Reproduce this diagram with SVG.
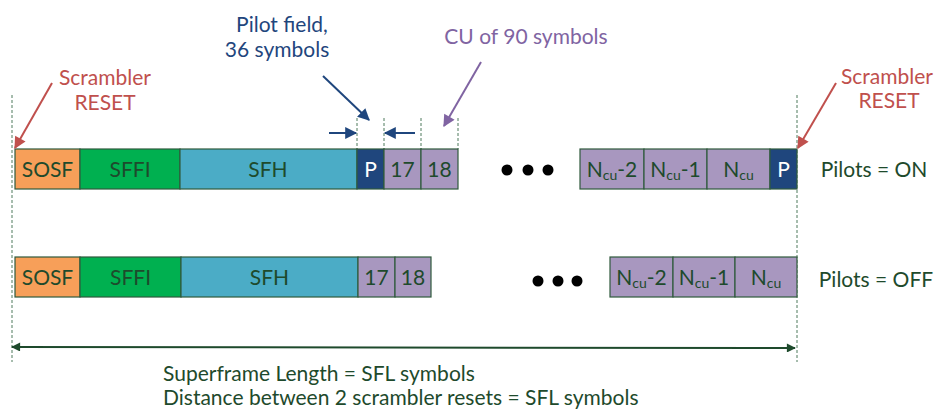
<svg xmlns="http://www.w3.org/2000/svg" width="937" height="410" viewBox="0 0 937 410">
<defs>
<style>
text{font-family:"Lato","Liberation Sans",sans-serif;}
.b{stroke:#2F5A3C;stroke-width:1.2;}
.t{fill:#1E4A2C;font-size:21px;text-anchor:middle;}
.tw{fill:#fff;font-size:21px;text-anchor:middle;}
.o{fill:#F79F59;}.g{fill:#00B050;}.c{fill:#4BACC6;}.p{fill:#A897BF;}.d{fill:#1F467D;}
.dash{stroke:#4F7A5C;stroke-width:1;stroke-dasharray:3,2;fill:none;}
.sub{font-size:14px;}
.lr{fill:#C0504D;font-size:21px;text-anchor:middle;}
.lb{fill:#1F467D;font-size:21px;text-anchor:middle;}
.lg{fill:#1E4A2C;font-size:21px;}
</style>
<marker id="ar" viewBox="0 0 10 10" refX="9" refY="5" markerUnits="userSpaceOnUse" markerWidth="13" markerHeight="12" orient="auto-start-reverse"><path d="M0,0L10,5L0,10z" fill="#C0504D"/></marker>
<marker id="ab" viewBox="0 0 10 10" refX="9" refY="5" markerUnits="userSpaceOnUse" markerWidth="13" markerHeight="12" orient="auto-start-reverse"><path d="M0,0L10,5L0,10z" fill="#1F467D"/></marker>
<marker id="ap" viewBox="0 0 10 10" refX="9" refY="5" markerUnits="userSpaceOnUse" markerWidth="13" markerHeight="12" orient="auto-start-reverse"><path d="M0,0L10,5L0,10z" fill="#8064A2"/></marker>
<marker id="ag" viewBox="0 0 10 10" refX="9" refY="5" markerUnits="userSpaceOnUse" markerWidth="10" markerHeight="9" orient="auto-start-reverse"><path d="M0,0L10,5L0,10z" fill="#1E4A2C"/></marker>
</defs>
<rect width="937" height="410" fill="#fff"/>
<g id="guides">
<line class="dash" x1="12" y1="95" x2="12" y2="362"/>
<line class="dash" x1="797" y1="95" x2="797" y2="362"/>
<line class="dash" x1="357" y1="118" x2="357" y2="149"/>
<line class="dash" x1="384" y1="118" x2="384" y2="149"/>
<line class="dash" x1="421" y1="118" x2="421" y2="149"/>
<line class="dash" x1="458" y1="118" x2="458" y2="149"/>
</g>
<g id="row1">
<g id="r1-sosf"><rect class="b o" x="15" y="149" width="65" height="40"/><text class="t" x="47.5" y="177">SOSF</text></g>
<g id="r1-sffi"><rect class="b g" x="80" y="149" width="100" height="40"/><text class="t" x="130" y="177">SFFI</text></g>
<g id="r1-sfh"><rect class="b c" x="180" y="149" width="177" height="40"/><text class="t" x="268" y="177">SFH</text></g>
<g id="r1-p1"><rect class="b d" x="357" y="149" width="27" height="40"/><text class="tw" x="370.5" y="177">P</text></g>
<g id="r1-17"><rect class="b p" x="384" y="149" width="37" height="40"/><text class="t" x="402.5" y="177">17</text></g>
<g id="r1-18"><rect class="b p" x="421" y="149" width="37" height="40"/><text class="t" x="439.5" y="177">18</text></g>
<g id="r1-dots" fill="#000"><circle cx="507" cy="170" r="5.5"/><circle cx="528" cy="170" r="5.5"/><circle cx="548" cy="170" r="5.5"/></g>
<g id="r1-n2"><rect class="b p" x="580" y="149" width="64" height="40"/><text class="t" x="612" y="177">N<tspan class="sub" dy="3">cu</tspan><tspan dy="-3">-2</tspan></text></g>
<g id="r1-n1"><rect class="b p" x="644" y="149" width="63" height="40"/><text class="t" x="675.5" y="177">N<tspan class="sub" dy="3">cu</tspan><tspan dy="-3">-1</tspan></text></g>
<g id="r1-n"><rect class="b p" x="707" y="149" width="63" height="40"/><text class="t" x="738.5" y="177">N<tspan class="sub" dy="3">cu</tspan></text></g>
<g id="r1-p2"><rect class="b d" x="770" y="149" width="27" height="40"/><text class="tw" x="783.5" y="177">P</text></g>
<text class="t" x="874" y="177" font-size="20">Pilots = ON</text>
</g>
<g id="row2">
<g id="r2-sosf"><rect class="b o" x="15" y="257" width="65" height="40"/><text class="t" x="47.5" y="285">SOSF</text></g>
<g id="r2-sffi"><rect class="b g" x="80" y="257" width="101" height="40"/><text class="t" x="130.5" y="285">SFFI</text></g>
<g id="r2-sfh"><rect class="b c" x="181" y="257" width="177" height="40"/><text class="t" x="269.5" y="285">SFH</text></g>
<g id="r2-17"><rect class="b p" x="358" y="257" width="37" height="40"/><text class="t" x="376.5" y="285">17</text></g>
<g id="r2-18"><rect class="b p" x="395" y="257" width="36" height="40"/><text class="t" x="413" y="285">18</text></g>
<g id="r2-dots" fill="#000"><circle cx="538" cy="281" r="5.5"/><circle cx="558" cy="281" r="5.5"/><circle cx="577" cy="281" r="5.5"/></g>
<g id="r2-n2"><rect class="b p" x="610" y="257" width="63" height="40"/><text class="t" x="641.5" y="285">N<tspan class="sub" dy="3">cu</tspan><tspan dy="-3">-2</tspan></text></g>
<g id="r2-n1"><rect class="b p" x="673" y="257" width="62" height="40"/><text class="t" x="704" y="285">N<tspan class="sub" dy="3">cu</tspan><tspan dy="-3">-1</tspan></text></g>
<g id="r2-n"><rect class="b p" x="735" y="257" width="62" height="40"/><text class="t" x="766" y="285">N<tspan class="sub" dy="3">cu</tspan></text></g>
<text class="t" x="876" y="287" font-size="20">Pilots = OFF</text>
</g>
<g id="labels">
<text class="lr" x="105" y="85">Scrambler</text>
<text class="lr" x="105" y="110">RESET</text>
<text class="lr" x="887" y="84">Scrambler</text>
<text class="lr" x="889" y="108">RESET</text>
<text class="lb" x="282" y="32">Pilot field,</text>
<text class="lb" x="277" y="57">36 symbols</text>
<text x="526" y="44" fill="#8064A2" font-size="21" text-anchor="middle">CU of 90 symbols</text>
<text class="lg" x="163" y="381">Superframe Length = SFL symbols</text>
<text class="lg" x="163" y="405">Distance between 2 scrambler resets = SFL symbols</text>
</g>
<g id="connectors" fill="none">
<line x1="52" y1="83" x2="15" y2="148" stroke="#C0504D" stroke-width="2" marker-end="url(#ar)"/>
<line x1="836" y1="83" x2="798" y2="148" stroke="#C0504D" stroke-width="2" marker-end="url(#ar)"/>
<line x1="323" y1="76" x2="369" y2="120" stroke="#1F467D" stroke-width="2" marker-end="url(#ab)"/>
<line x1="329" y1="133" x2="356" y2="133" stroke="#1F467D" stroke-width="2" marker-end="url(#ab)"/>
<line x1="415" y1="133" x2="385" y2="133" stroke="#1F467D" stroke-width="2" marker-end="url(#ab)"/>
<line x1="481" y1="62" x2="444" y2="126" stroke="#8064A2" stroke-width="2" marker-end="url(#ap)"/>
<line x1="12" y1="347" x2="795" y2="348" stroke="#1E4A2C" stroke-width="2" marker-start="url(#ag)" marker-end="url(#ag)"/>
</g>
</svg>
